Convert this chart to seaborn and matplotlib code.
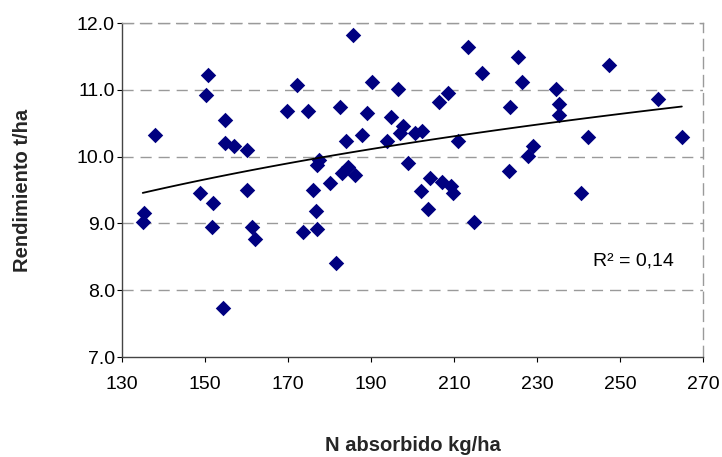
import numpy as np
import pandas as pd
import matplotlib
matplotlib.use("Agg")
import matplotlib.pyplot as plt
import seaborn as sns

# Data
n_absorbido = [135.0, 135.4, 138.0, 148.8, 150.3, 150.7, 151.6, 152.0, 154.3, 154.8,
               154.8, 157.1, 160.2, 160.2, 161.3, 162.1, 169.8, 172.1, 173.7, 174.7,
               176.1, 176.7, 176.9, 176.9, 177.5, 180.1, 181.6, 182.5, 182.9, 183.9,
               184.5, 185.7, 186.1, 187.9, 189.0, 190.2, 193.8, 194.8, 196.6, 197.0,
               197.8, 199.0, 200.6, 202.0, 202.2, 203.8, 204.2, 206.5, 207.0, 208.5,
               209.2, 209.8, 211.0, 213.3, 214.7, 216.8, 223.3, 223.6, 225.5, 226.5,
               227.8, 229.1, 234.6, 235.2, 235.2, 240.5, 242.4, 247.3, 259.1, 264.9]
rendimiento = [9.02, 9.15, 10.32, 9.45, 10.92, 11.22, 8.95, 9.31, 7.73, 10.55,
               10.21, 10.16, 10.10, 9.50, 8.95, 8.76, 10.69, 11.07, 8.87, 10.69,
               9.50, 9.18, 8.91, 9.87, 9.95, 9.60, 8.41, 10.75, 9.75, 10.24,
               9.85, 11.82, 9.73, 10.32, 10.66, 11.12, 10.24, 10.59, 11.01, 10.36,
               10.46, 9.90, 10.36, 9.48, 10.39, 9.22, 9.68, 10.82, 9.62, 10.95,
               9.56, 9.46, 10.24, 11.64, 9.02, 11.25, 9.79, 10.75, 11.49, 11.12,
               10.01, 10.16, 11.01, 10.78, 10.63, 9.45, 10.30, 11.37, 10.86, 10.30]
x_ticks = [130, 150, 170, 190, 210, 230, 250, 270]
y_ticks = [7.0, 8.0, 9.0, 10.0, 11.0, 12.0]
r2_label = "R² = 0,14"
x_label = "N absorbido kg/ha"
y_label = "Rendimiento t/ha"

df = pd.DataFrame({"N": n_absorbido, "R": rendimiento})

sns.set_style("white")
plt.rcParams["font.family"] = ["Liberation Sans", "DejaVu Sans"]

fig = plt.figure(figsize=(7.22, 4.57), dpi=100)
ax = fig.add_axes([122 / 722, 1 - 357 / 457, (703 - 122) / 722, (357 - 23) / 457])

for yv in y_ticks[1:]:
    ax.axhline(yv, color="#9a9a9a", lw=1.0, ls=(0, (8, 5)), zorder=0)

sns.regplot(data=df, x="N", y="R", logx=True, ci=None, ax=ax,
            marker="D",
            scatter_kws={"s": 62, "color": "#000080", "linewidths": 0, "zorder": 2, "alpha": 1},
            line_kws={"color": "black", "lw": 1.3, "zorder": 3})

ax.set_xlim(130, 270)
ax.set_ylim(7.0, 12.0)
ax.set_xticks(x_ticks)
ax.set_xticklabels([str(v) for v in x_ticks])
ax.set_yticks(y_ticks)
ax.set_yticklabels([f"{v:.1f}" for v in y_ticks])
ax.tick_params(axis="both", direction="out", length=3.6, width=0.8, colors="black",
               labelsize=14, left=True, bottom=True)
ax.tick_params(axis="x", pad=10)
ax.tick_params(axis="y", pad=1.5)

for side in ("left", "bottom"):
    ax.spines[side].set_color("#444444")
    ax.spines[side].set_linewidth(1.0)
for side in ("top", "right"):
    ax.spines[side].set_color("#9a9a9a")
    ax.spines[side].set_linewidth(1.0)
    ax.spines[side].set_linestyle((0, (8, 5)))

ax.set_xlabel(x_label, fontsize=14.5, fontweight="bold")
ax.set_ylabel(y_label, fontsize=14.5, fontweight="bold")
ax.xaxis.set_label_coords(0.5, -0.2365)
ax.yaxis.set_label_coords(-0.155, 0.5)

ax.text(243.5, 8.43, r2_label, fontsize=14, va="center", ha="left", color="black")

fig.savefig("out.png", dpi=100)
